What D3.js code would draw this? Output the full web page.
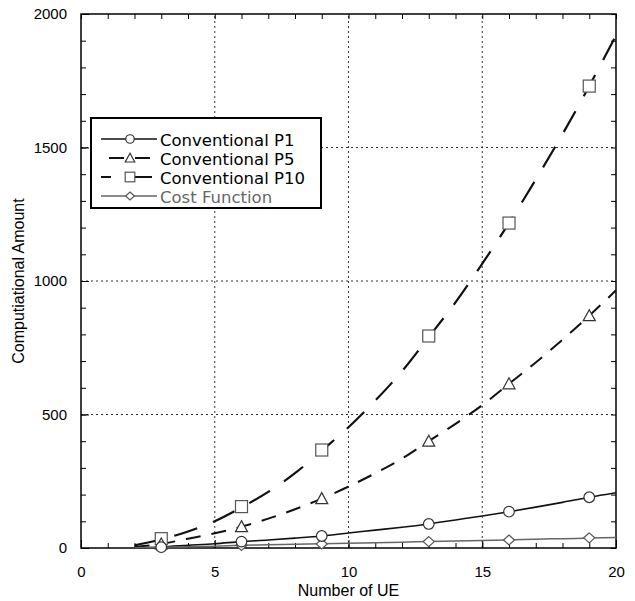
<!DOCTYPE html>
<html><head><meta charset="utf-8">
<script src="https://cdn.jsdelivr.net/npm/d3@7"></script>
<style>body{margin:0;background:#fff}svg{display:block}</style>
</head><body>
<script>
// ---- data ----
const lineX = [2,3,4,5,6,7,8,9,10,11,12,13,14,15,16,17,18,19,20];
const p1Line   = [1,4,10,16,24,30,37,45,56,67,78,90,105,120,136,153,171,190,207];
const p5Line   = [5,15,35,55,80,110,145,185,230,280,335,400,465,535,615,695,780,870,965];
const p10Line  = [10,32,62,100,152,210,280,365,452,552,662,790,920,1065,1217,1380,1550,1730,1920];
const costLine = [1,3,5,7,10,12,14,16,18,20,22,24,26,28,30,33,35,37,39];
const markerX = [3,6,9,13,16,19];
const p1Mk   = [3,24,45,90,136,190];
const p5Mk   = [15,80,185,400,615,870];
const p10Mk  = [35,155,367,794,1217,1730];
const costMk = [2,10,15,24,30,38];
const seriesNames = ["Conventional P1","Conventional P5","Conventional P10","Cost Function"];
const xTicks = [0,5,10,15,20];
const yTicks = [0,500,1000,1500,2000];

const W=635,H=601;
const m={l:81,r:19,t:14,b:53};
const svg=d3.select("body").append("svg").attr("width",W).attr("height",H)
  .style("font-family","'Liberation Sans',Arial,sans-serif");
const x=d3.scaleLinear().domain([0,20]).range([m.l,W-m.r]);
const y=d3.scaleLinear().domain([0,2000]).range([H-m.b,m.t]);
const g=svg.append("g");

// grid
g.selectAll(".gx").data([5,10,15]).join("line")
 .attr("x1",d=>x(d)).attr("x2",d=>x(d)).attr("y1",y(0)).attr("y2",y(2000))
 .attr("stroke","#333").attr("stroke-width",1).attr("stroke-dasharray","2,3");
g.selectAll(".gy").data([500,1000,1500]).join("line")
 .attr("y1",d=>y(d)).attr("y2",d=>y(d)).attr("x1",x(0)).attr("x2",x(20))
 .attr("stroke","#333").attr("stroke-width",1).attr("stroke-dasharray","2,3");

// axes with inward ticks
const minorX=d3.range(0,21,1), minorY=d3.range(0,2001,100);
const fs=15;
function ticks(axisFn, scale, vals, len, tr){
  g.append("g").attr("transform",tr).call(axisFn(scale).tickValues(vals).tickSize(-len).tickFormat(""))
   .call(a=>{a.select(".domain").remove();a.selectAll("line").attr("stroke","#000");});
}
ticks(d3.axisBottom,x,minorX,5,`translate(0,${y(0)})`);
ticks(d3.axisTop,x,minorX,5,`translate(0,${y(2000)})`);
ticks(d3.axisLeft,y,minorY,5,`translate(${x(0)},0)`);
ticks(d3.axisRight,y,minorY,5,`translate(${x(20)},0)`);
ticks(d3.axisBottom,x,xTicks,8,`translate(0,${y(0)})`);
ticks(d3.axisLeft,y,yTicks,8,`translate(${x(0)},0)`);
// labels
function styleText(a){a.select(".domain").remove();a.selectAll("text").attr("font-size",fs).style("font-family","'Liberation Sans',Arial,sans-serif").attr("fill","#000");}
g.append("g").attr("transform",`translate(0,${y(0)})`)
 .call(d3.axisBottom(x).tickValues(xTicks).tickSize(0).tickPadding(18).tickFormat(d3.format("d"))).call(styleText);
g.append("g").attr("transform",`translate(${x(0)},0)`)
 .call(d3.axisLeft(y).tickValues(yTicks).tickSize(0).tickPadding(14).tickFormat(d3.format("d"))).call(styleText);

// frame
g.append("rect").attr("x",x(0)).attr("y",y(2000)).attr("width",x(20)-x(0)).attr("height",y(0)-y(2000))
 .attr("fill","none").attr("stroke","#000").attr("stroke-width",1.5);

// axis titles
svg.append("text").attr("x",(x(0)+x(20))/2).attr("y",596).attr("text-anchor","middle").attr("font-size",16).text("Number of UE");
svg.append("text").attr("transform",`translate(24,${(y(0)+y(2000))/2}) rotate(-90)`).attr("text-anchor","middle").attr("font-size",16).text("Computiational Amount");

// series
const series=[
 {name:seriesNames[0],line:p1Line,mk:p1Mk,color:"#111",w:1.6,dash:null,shape:"circle",mc:"#333"},
 {name:seriesNames[1],line:p5Line,mk:p5Mk,color:"#111",w:2,dash:"15,11",shape:"triangle",mc:"#333"},
 {name:seriesNames[2],line:p10Line,mk:p10Mk,color:"#111",w:2.2,dash:"24,17",shape:"square",mc:"#555"},
 {name:seriesNames[3],line:costLine,mk:costMk,color:"#666",w:1.5,dash:null,shape:"diamond",mc:"#555"}
];
const lg=d3.line().x(d=>x(d[0])).y(d=>y(d[1])).curve(d3.curveMonotoneX);
const plot=svg.append("g");
plot.append("clipPath").attr("id","clip").append("rect").attr("x",x(0)).attr("y",y(2000)).attr("width",x(20)-x(0)).attr("height",y(0)-y(2000));
function marker(sel,shape,cx,cy,col,k){
  k=k||1;
  if(shape==="circle") sel.append("circle").attr("cx",cx).attr("cy",cy).attr("r",5.3*k).attr("fill","#fff").attr("stroke",col).attr("stroke-width",1.2);
  else if(shape==="triangle") sel.append("path").attr("d",`M${cx},${cy-6*k}L${cx+6*k},${cy+5*k}L${cx-6*k},${cy+5*k}Z`).attr("fill","#fff").attr("stroke",col).attr("stroke-width",1.2);
  else if(shape==="square") sel.append("rect").attr("x",cx-6*k).attr("y",cy-6*k).attr("width",12*k).attr("height",12*k).attr("fill","#fff").attr("stroke",col).attr("stroke-width",1.2);
  else sel.append("path").attr("d",`M${cx},${cy-5*k}L${cx+5.5*k},${cy}L${cx},${cy+5*k}L${cx-5.5*k},${cy}Z`).attr("fill","#fff").attr("stroke",col).attr("stroke-width",1.2);
}
series.forEach(s=>{
  plot.append("path").datum(lineX.map((v,i)=>[v,s.line[i]])).attr("d",lg)
   .attr("fill","none").attr("stroke",s.color).attr("stroke-width",s.w)
   .attr("stroke-dasharray",s.dash).attr("clip-path","url(#clip)");
});
series.slice().reverse().forEach(s=>{
  markerX.forEach((v,i)=>marker(plot,s.shape,x(v),y(s.mk[i]),s.mc));
});

// legend
const L=svg.append("g");
L.append("rect").attr("x",91).attr("y",118).attr("width",230).attr("height",90).attr("fill","#fff").attr("stroke","#000").attr("stroke-width",2);
const rows=[140,159,178,197];
series.forEach((s,i)=>{
  const ry=rows[i]-1;
  const offs=[0,-8,14,0];
  L.append("line").attr("x1",101).attr("x2",157).attr("y1",ry).attr("y2",ry).attr("stroke",s.color).attr("stroke-width",s.w)
   .attr("stroke-dasharray",s.dash).attr("stroke-dashoffset",offs[i]);
  marker(L,s.shape,130,ry,s.mc,0.8);
  L.append("text").attr("x",160).attr("y",rows[i]+5.5).attr("font-size",16.5)
   .style("font-family","'DejaVu Sans',sans-serif").attr("fill",i===3?"#666":"#000").text(s.name);
});
</script>
</body></html>
